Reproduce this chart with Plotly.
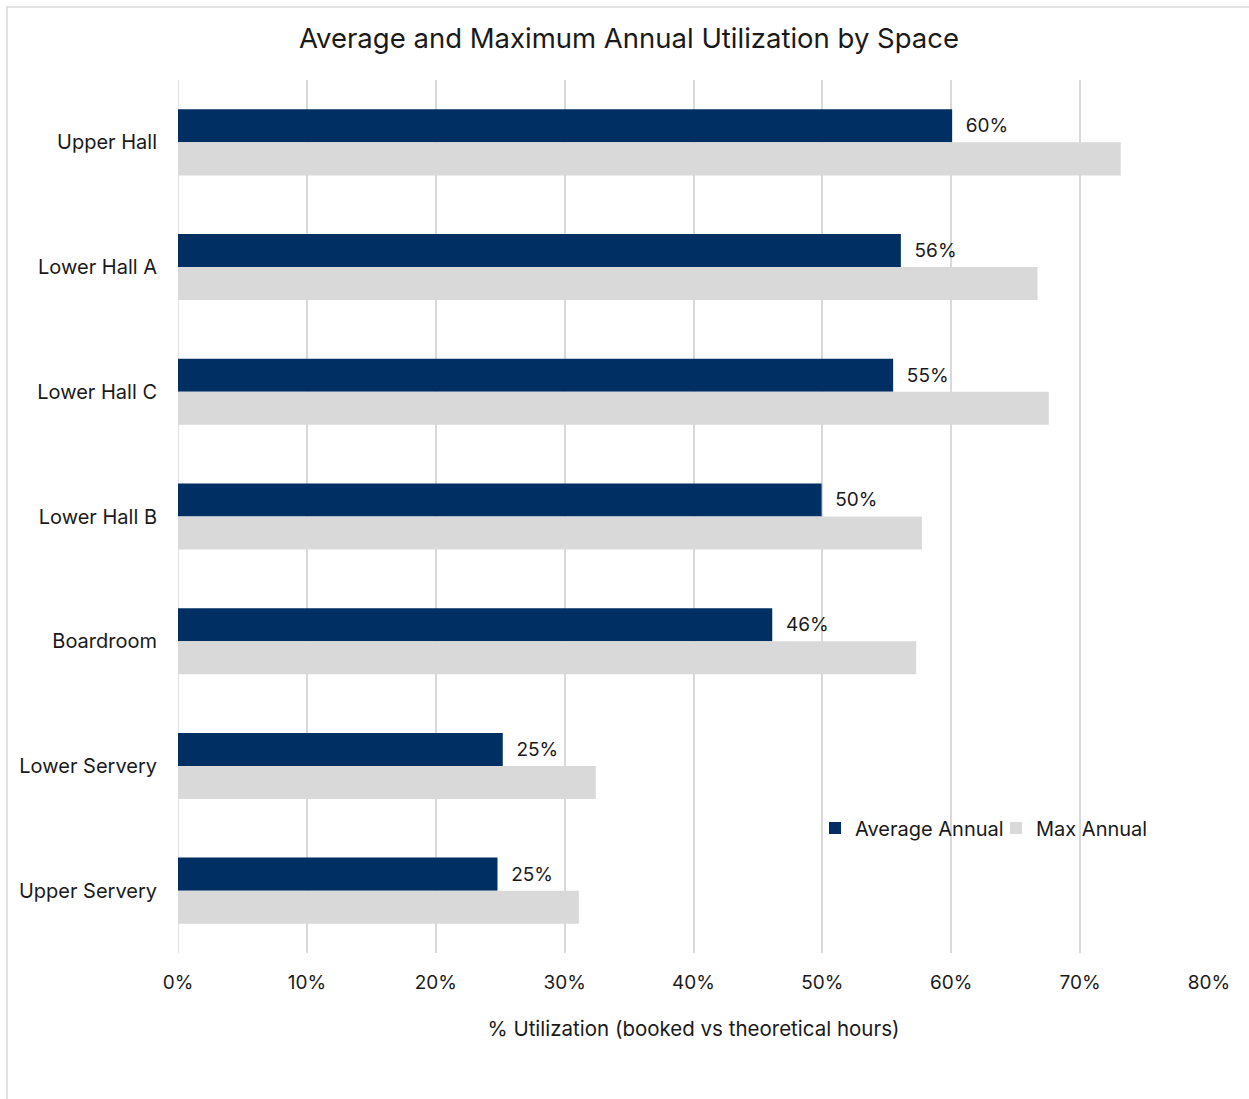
import plotly.graph_objects as go

# Spaces, listed top to bottom
spaces = ["Upper Hall", "Lower Hall A", "Lower Hall C", "Lower Hall B",
          "Boardroom", "Lower Servery", "Upper Servery"]

# Annual utilization as a fraction of theoretical hours
average_annual = [0.6007, 0.5609, 0.5549, 0.4994, 0.4611, 0.2520, 0.2479]
max_annual = [0.7315, 0.6669, 0.6757, 0.5772, 0.5728, 0.3242, 0.3110]

x_ticks = [0, 0.1, 0.2, 0.3, 0.4, 0.5, 0.6, 0.7, 0.8]

NAVY = "#002F63"
LIGHT_GRAY = "#D9D9D9"
TEXT = "#1A1A1A"
FONT = "Inter"

fig = go.Figure()
fig.add_trace(go.Bar(
    name="Average Annual", y=spaces, x=average_annual, orientation="h",
    marker=dict(color=NAVY, line=dict(width=0)),
    texttemplate="\u00a0\u00a0%{x:.0%}", textposition="outside", cliponaxis=False,
    textfont=dict(family=FONT, size=19, color=TEXT),
))
fig.add_trace(go.Bar(
    name="Max Annual", y=spaces, x=max_annual, orientation="h",
    marker=dict(color=LIGHT_GRAY, line=dict(width=0)),
))

L, R, T, B = 178, 40, 80, 146
W, H = 1249, 1099
pw, ph = W - L - R, H - T - B

def px_x(px):
    return (px - L) / pw

def px_y(py):
    return (H - B - py) / ph

# light outer frame around the chart
fig.add_shape(type="rect", xref="paper", yref="paper",
              x0=px_x(7), x1=px_x(W + 20), y0=px_y(H + 20), y1=px_y(7),
              line=dict(color="#D9D9D9", width=1.5), fillcolor="rgba(0,0,0,0)",
              layer="below")

fig.update_layout(
    width=W, height=H,
    margin=dict(l=L, r=R, t=T, b=B),
    paper_bgcolor="white", plot_bgcolor="white",
    barmode="group", bargap=0.47, bargroupgap=0,
    font=dict(family=FONT, color=TEXT, size=20.5),
    title=dict(text="Average and Maximum Annual Utilization by Space",
               x=px_x(629), xref="paper", xanchor="center",
               y=1 - 38 / H, yref="container", yanchor="middle",
               font=dict(family=FONT, size=27.5, color=TEXT)),
    legend=dict(orientation="h", x=px_x(815), y=px_y(828),
                xanchor="left", yanchor="middle",
                font=dict(family=FONT, size=20, color=TEXT),
                bgcolor="rgba(0,0,0,0)", itemwidth=30, entrywidth=136,
                traceorder="normal"),
    xaxis=dict(range=[0, 0.8], tickvals=x_ticks, tickformat=".0%",
               showgrid=True, gridcolor="#D9D9D9", gridwidth=1.5,
               zeroline=False, showline=False, ticks="",
               ticklabelstandoff=16,
               tickfont=dict(family=FONT, size=19, color=TEXT),
               title=dict(text="% Utilization (booked vs theoretical hours)",
                          standoff=28,
                          font=dict(family=FONT, size=20.5, color=TEXT))),
    yaxis=dict(autorange="reversed", showgrid=False, zeroline=False,
               showline=False, ticks="", ticklabelstandoff=20,
               tickfont=dict(family=FONT, size=20, color=TEXT)),
)
# vertical line at 0%
fig.add_vline(x=0, line=dict(color="#D9D9D9", width=1.5), layer="below")

fig.write_html("out.html")
